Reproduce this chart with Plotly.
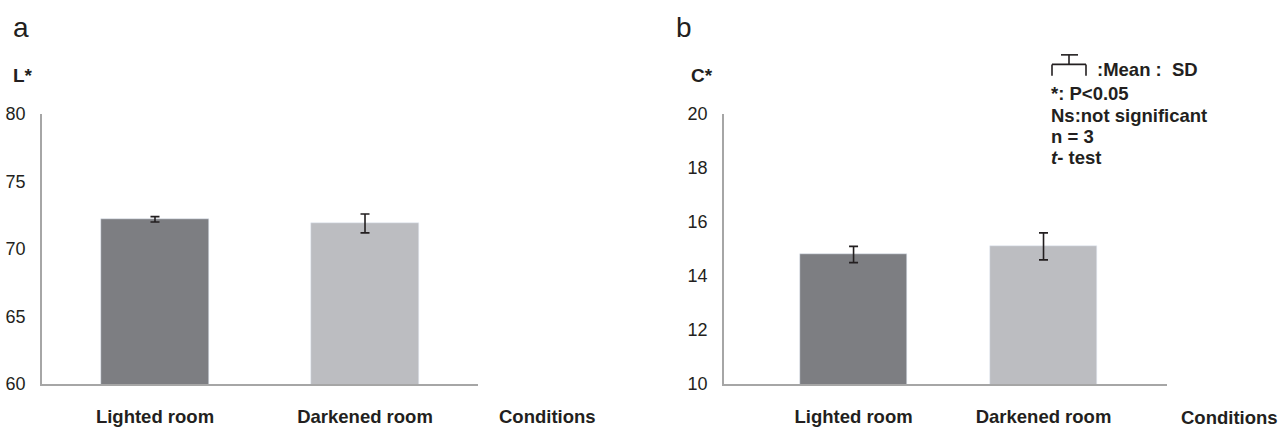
import plotly.graph_objects as go

W, H = 1286, 439

categories = ["Lighted room", "Darkened room"]
L_values = [72.2, 71.9]
L_sd = [0.2, 0.7]
C_values = [14.8, 15.1]
C_sd = [0.3, 0.5]
bar_colors = ["#7d7e82", "#bcbdc1"]

L_ticks = [60, 65, 70, 75, 80]
C_ticks = [10, 12, 14, 16, 18, 20]

legend_lines = ["*: P<0.05", "Ns:not significant", "n = 3", "<i>t</i>- test"]

FONT = "Liberation Sans, Arial, sans-serif"
INK = "#231f20"

def px(x):
    return x / W

def py(y):
    return 1 - y / H

fig = go.Figure()

err_style = dict(type="data", color=INK, thickness=1.6, width=4.5)

fig.add_trace(go.Bar(
    x=categories, y=L_values, marker_color=bar_colors, width=0.514,
    error_y=dict(array=L_sd, **err_style),
    xaxis="x", yaxis="y", showlegend=False))

fig.add_trace(go.Bar(
    x=categories, y=C_values, marker_color=bar_colors, width=0.563,
    error_y=dict(array=C_sd, **err_style),
    xaxis="x2", yaxis="y2", showlegend=False))

axis_common = dict(showgrid=False, zeroline=False, showline=True,
                   linecolor="#a6a6a6", linewidth=1.8, ticks="")

tickfont_x = dict(family=FONT, size=18.5, color=INK, weight="bold")
tickfont_y = dict(family=FONT, size=18, color=INK)

fig.update_layout(
    width=W, height=H,
    margin=dict(l=0, r=0, t=0, b=0),
    paper_bgcolor="white", plot_bgcolor="white",
    bargap=0,
    xaxis=dict(domain=[px(42), px(478)], anchor="y", type="category",
               range=[-0.538, 1.538], tickfont=tickfont_x,
               ticklabelstandoff=15, **axis_common),
    yaxis=dict(domain=[py(392), py(109)], anchor="x", range=[60, 80],
               tickvals=L_ticks, tickfont=tickfont_y, ticklabelstandoff=11,
               **axis_common),
    xaxis2=dict(domain=[px(724), px(1167)], anchor="y2", type="category",
                range=[-0.682, 1.65], tickfont=tickfont_x,
                ticklabelstandoff=15, **axis_common),
    yaxis2=dict(domain=[py(392), py(109)], anchor="x2", range=[10, 20],
                tickvals=C_ticks, tickfont=tickfont_y, ticklabelstandoff=11,
                **axis_common),
)

def ann(text, x, y, size=15, bold=False, xanchor="left", yanchor="middle"):
    fig.add_annotation(
        text=f"<b>{text}</b>" if bold else text,
        x=px(x), y=py(y), xref="paper", yref="paper",
        xanchor=xanchor, yanchor=yanchor, showarrow=False,
        font=dict(family=FONT, size=size, color=INK))

ann("a", 11, 18, size=28)
ann("b", 674, 18, size=28)
ann("L*", 11, 68.5, size=19, bold=True)
ann("C*", 689, 68.5, size=19, bold=True)
ann("Conditions", 497, 425.5, size=18.5, bold=True)
ann("Conditions", 1179, 426.5, size=18.5, bold=True)

ann(":Mean :&nbsp; SD", 1095, 62, size=18.5, bold=True)
for i, txt in enumerate(legend_lines):
    ann(txt, 1049, 88 + 22.3 * i, size=18.5, bold=True)

# mean/SD bracket symbol
line = dict(color=INK, width=1.6)
for x0, y0, x1, y1 in [
    (1061, 47, 1078, 47),
    (1069, 47, 1069, 57),
    (1052, 57, 1086, 57),
    (1052, 57, 1052, 69),
    (1086, 57, 1086, 69),
]:
    fig.add_shape(type="line", xref="paper", yref="paper",
                  x0=px(x0), y0=py(y0), x1=px(x1), y1=py(y1), line=line)

fig.write_html("out.html", post_script="document.body.style.margin='0';",
               config={"displayModeBar": False})
